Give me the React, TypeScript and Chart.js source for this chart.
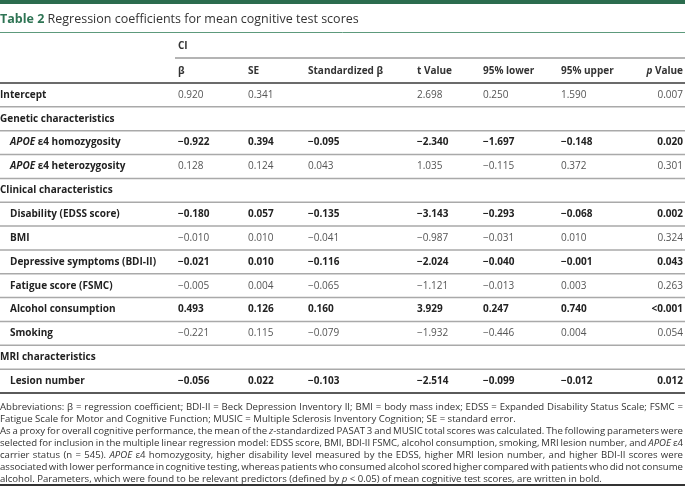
import React, { useEffect, useRef } from "react";
import { Chart, registerables } from "chart.js";
Chart.register(...registerables);

// ---------- data ----------
const rowLabels = [
  "Intercept",
  "Genetic characteristics",
  "APOE ε4 homozygosity",
  "APOE ε4 heterozygosity",
  "Clinical characteristics",
  "Disability (EDSS score)",
  "BMI",
  "Depressive symptoms (BDI-II)",
  "Fatigue score (FSMC)",
  "Alcohol consumption",
  "Smoking",
  "MRI characteristics",
  "Lesion number",
];
const sectionRows = ["Genetic characteristics", "Clinical characteristics", "MRI characteristics"];
const beta = [0.92, null, -0.922, 0.128, null, -0.18, -0.01, -0.021, -0.005, 0.493, -0.221, null, -0.056];
const se = [0.341, null, 0.394, 0.124, null, 0.057, 0.01, 0.01, 0.004, 0.126, 0.115, null, 0.022];
const stdBeta = [null, null, -0.095, 0.043, null, -0.135, -0.041, -0.116, -0.065, 0.16, -0.079, null, -0.103];
const tValue = [2.698, null, -2.34, 1.035, null, -3.143, -0.987, -2.024, -1.121, 3.929, -1.932, null, -2.514];
const lower95 = [0.25, null, -1.697, -0.115, null, -0.293, -0.031, -0.04, -0.013, 0.247, -0.446, null, -0.099];
const upper95 = [1.59, null, -0.148, 0.372, null, -0.068, 0.01, -0.001, 0.003, 0.74, 0.004, null, -0.012];
const pValue = ["0.007", null, "0.020", "0.301", null, "0.002", "0.324", "0.043", "0.263", "<0.001", "0.054", null, "0.012"];
const columnHeaders = ["β", "SE", "Standardized β", "t Value", "95% lower", "95% upper", "p Value"];
const groupHeader = "CI";
const titleLabel = "Table 2";
const titleText = "Regression coefficients for mean cognitive test scores";

type Seg = { t: string; i?: boolean };
const footnotes: { segs: Seg[]; justify: boolean }[] = [
  { segs: [{ t: "Abbreviations: β = regression coefficient; BDI-II = Beck Depression Inventory II; BMI = body mass index; EDSS = Expanded Disability Status Scale; FSMC =" }], justify: true },
  { segs: [{ t: "Fatigue Scale for Motor and Cognitive Function; MUSIC = Multiple Sclerosis Inventory Cognition; SE = standard error." }], justify: false },
  { segs: [{ t: "As a proxy for overall cognitive performance, the mean of the " }, { t: "z", i: true }, { t: "-standardized PASAT 3 and MUSIC total scores was calculated. The following parameters were" }], justify: true },
  { segs: [{ t: "selected for inclusion in the multiple linear regression model: EDSS score, BMI, BDI-II FSMC, alcohol consumption, smoking, MRI lesion number, and " }, { t: "APOE", i: true }, { t: " ε4" }], justify: true },
  { segs: [{ t: "carrier status (n = 545). " }, { t: "APOE", i: true }, { t: " ε4 homozygosity, higher disability level measured by the EDSS, higher MRI lesion number, and higher BDI-II scores were" }], justify: true },
  { segs: [{ t: "associated with lower performance in cognitive testing, whereas patients who consumed alcohol scored higher compared with patients who did not consume" }], justify: true },
  { segs: [{ t: "alcohol. Parameters, which were found to be relevant predictors (defined by " }, { t: "p", i: true }, { t: " < 0.05) of mean cognitive test scores, are written in bold." }], justify: false },
];

// ---------- layout / style ----------
const W = 685;
const H = 487;
const FONT = "'Open Sans', 'Noto Sans', sans-serif";
const BODY = 10;
const NOTE = 9.6;
const colLeft = [178, 248, 308, 417, 483, 561];
const pRight = 683;
const GREEN = "#2b6c4e";

function fmt(v: number | null) {
  if (v === null) return "";
  return v.toFixed(3).replace("-", "−");
}

function drawSegs(ctx: CanvasRenderingContext2D, segs: { t: string; font: string; color: string }[], x: number, y: number) {
  let cx = x;
  for (const s of segs) {
    ctx.font = s.font;
    ctx.fillStyle = s.color;
    ctx.fillText(s.t, cx, y);
    cx += ctx.measureText(s.t).width;
  }
}

function drawJustified(ctx: CanvasRenderingContext2D, segs: Seg[], x: number, y: number, width: number, justify: boolean, size: number, color: string) {
  const words: { t: string; font: string }[][] = [[]];
  for (const s of segs) {
    const parts = s.t.split(" ");
    parts.forEach((p, j) => {
      if (j > 0) words.push([]);
      if (p !== "") words[words.length - 1].push({ t: p, font: `${s.i ? "italic " : ""}${size}px ${FONT}` });
    });
  }
  const ws = words.filter((w) => w.length > 0);
  const widths = ws.map((w) =>
    w.reduce((acc, p) => {
      ctx.font = p.font;
      return acc + ctx.measureText(p.t).width;
    }, 0)
  );
  const total = widths.reduce((a, b) => a + b, 0);
  ctx.font = `${size}px ${FONT}`;
  const gap = justify && ws.length > 1 ? (width - total) / (ws.length - 1) : ctx.measureText(" ").width;
  let cx = x;
  ws.forEach((w, k) => {
    drawSegs(ctx, w.map((p) => ({ t: p.t, font: p.font, color })), cx, y);
    cx += widths[k] + gap;
  });
}

function hline(ctx: CanvasRenderingContext2D, x1: number, x2: number, y: number, w: number, color: string) {
  ctx.save();
  ctx.strokeStyle = color;
  ctx.lineWidth = w;
  ctx.beginPath();
  ctx.moveTo(x1, y);
  ctx.lineTo(x2, y);
  ctx.stroke();
  ctx.restore();
}

const tablePlugin = {
  id: "tableText",
  afterDraw(chart: any) {
    const { ctx, chartArea, scales } = chart;
    const ys = scales.y;
    const xs = scales.x;
    const band = ys.getPixelForValue(1) - ys.getPixelForValue(0);
    const left = chartArea.left;
    const right = chartArea.right;
    ctx.save();
    ctx.textBaseline = "middle";

    // top band & title
    ctx.fillStyle = GREEN;
    ctx.fillRect(0, 0, W, 4);
    ctx.textAlign = "left";
    drawSegs(ctx, [
      { t: titleLabel + " ", font: `bold 12.5px ${FONT}`, color: "#2e7454" },
      { t: titleText, font: `12.5px ${FONT}`, color: "#333" },
    ], left, 19);
    hline(ctx, left, right, 32.5, 1, "#5d9a7c");

    // group header CI
    const hdrFont = `bold ${BODY}px ${FONT}`;
    ctx.font = hdrFont;
    ctx.fillStyle = "#333";
    ctx.fillText(groupHeader, xs.getPixelForValue(colLeft[0]), 46);
    hline(ctx, xs.getPixelForValue(colLeft[0]) - 3, right, 58, 1.2, "#6a6a6a");

    // column headers
    columnHeaders.forEach((h, c) => {
      const words = h.split(" ");
      if (c === columnHeaders.length - 1) {
        ctx.textAlign = "left";
        const segs = [
          { t: words[0] + " ", font: `italic bold ${BODY}px ${FONT}`, color: "#333" },
          { t: words.slice(1).join(" "), font: hdrFont, color: "#333" },
        ];
        let w = 0;
        segs.forEach((s) => { ctx.font = s.font; w += ctx.measureText(s.t).width; });
        drawSegs(ctx, segs, xs.getPixelForValue(pRight) - w, 71);
      } else {
        ctx.font = hdrFont;
        ctx.fillStyle = "#333";
        ctx.fillText(h, xs.getPixelForValue(colLeft[c]), 71);
      }
    });

    // header bottom line
    hline(ctx, left, right, chartArea.top, 2, "#6b6b6b");

    // rows
    const numCols = [beta, se, stdBeta, tValue, lower95, upper95];
    let inSection = false;
    rowLabels.forEach((label, i) => {
      const y = ys.getPixelForValue(i);
      const isSection = sectionRows.includes(label);
      if (isSection) inSection = true;
      const indent = !isSection && inSection ? 10 : 0;
      const pNum = pValue[i] === null ? 1 : parseFloat(String(pValue[i]).replace("<", ""));
      const bold = i > 0 && !isSection && pNum < 0.05;
      ctx.textAlign = "left";
      if (label.startsWith("APOE")) {
        drawSegs(ctx, [
          { t: "APOE", font: `italic bold ${BODY}px ${FONT}`, color: "#222" },
          { t: label.slice(4), font: `bold ${BODY}px ${FONT}`, color: "#222" },
        ], left + indent, y);
      } else {
        drawSegs(ctx, [{ t: label, font: `bold ${BODY}px ${FONT}`, color: "#222" }], left + indent, y);
      }
      const nFont = `${bold ? "bold " : ""}${BODY}px ${FONT}`;
      const nColor = bold ? "#222" : "#555";
      ctx.font = nFont;
      ctx.fillStyle = nColor;
      numCols.forEach((arr, c) => {
        const v = arr[i];
        if (v === null) return;
        ctx.textAlign = "left";
        ctx.fillText(fmt(v), xs.getPixelForValue(colLeft[c]), y);
      });
      if (pValue[i] !== null) {
        ctx.textAlign = "right";
        ctx.fillText(String(pValue[i]), xs.getPixelForValue(pRight), y);
      }
      const yb = y + band / 2;
      if (i < rowLabels.length - 1) hline(ctx, left, right, yb, 1.5, "#a9a9a9");
      else hline(ctx, left, right, yb, 2, "#5a5a5a");
    });

    // footnotes
    ctx.textAlign = "left";
    footnotes.forEach((f, k) => {
      drawJustified(ctx, f.segs, left, 407 + k * 12, right - left - 2, f.justify, NOTE, "#333");
    });
    hline(ctx, left, right, 485, 2, "#333");
    ctx.restore();
  },
};

export default function App() {
  const ref = useRef<HTMLCanvasElement | null>(null);
  useEffect(() => {
    if (!ref.current) return;
    const chart = new Chart(ref.current, {
      type: "bar",
      data: { labels: rowLabels, datasets: [] },
      options: {
        indexAxis: "y",
        responsive: false,
        maintainAspectRatio: false,
        animation: false,
        devicePixelRatio: 1,
        layout: { padding: { top: 83, bottom: 94, left: 0, right: 0 } },
        plugins: { legend: { display: false }, tooltip: { enabled: false }, title: { display: false } },
        scales: {
          y: { type: "category", display: false, offset: true },
          x: { type: "linear", display: false, min: 0, max: W },
        },
      },
      plugins: [tablePlugin],
    } as any);
    return () => chart.destroy();
  }, []);
  return (
    <div style={{ position: "absolute", left: 0, top: 0, width: W, height: H, background: "#fff" }}>
      <canvas ref={ref} width={W} height={H} style={{ display: "block", width: W, height: H }} />
    </div>
  );
}
